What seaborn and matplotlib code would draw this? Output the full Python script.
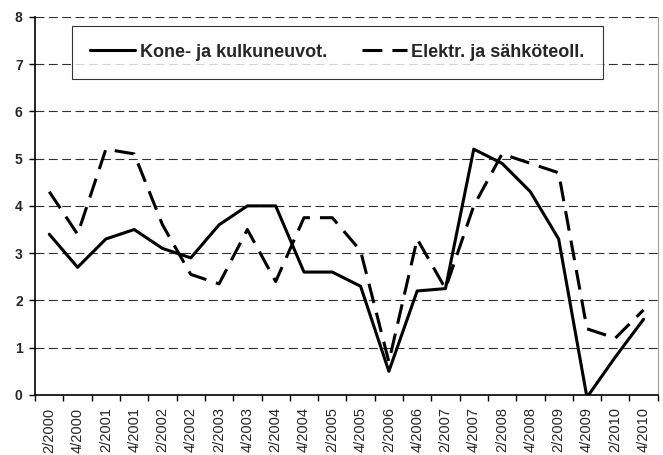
import matplotlib
matplotlib.use("Agg")
import matplotlib.pyplot as plt
import pandas as pd
import seaborn as sns

# data
periods = ["2/2000", "4/2000", "2/2001", "4/2001", "2/2002", "4/2002",
           "2/2003", "4/2003", "2/2004", "4/2004", "2/2005", "4/2005",
           "2/2006", "4/2006", "2/2007", "4/2007", "2/2008", "4/2008",
           "2/2009", "4/2009", "2/2010", "4/2010"]
kone = [3.4, 2.7, 3.3, 3.5, 3.1, 2.9, 3.6, 4.0, 4.0, 2.6, 2.6, 2.3,
        0.5, 2.2, 2.25, 5.2, 4.9, 4.3, 3.3, -0.05, 0.8, 1.6]
elektr = [4.3, 3.4, 5.2, 5.1, 3.6, 2.55, 2.35, 3.5, 2.4, 3.75, 3.75, 3.05,
          0.7, 3.3, 2.25, 4.0, 5.1, 4.9, 4.7, 1.4, 1.2, 1.8]
series_names = ["Kone- ja kulkuneuvot.", "Elektr. ja sähköteoll."]

df = pd.DataFrame({
    "pos": list(range(len(periods))) * 2,
    "value": kone + elektr,
    "series": [series_names[0]] * len(periods) + [series_names[1]] * len(periods),
})

sns.set_style("white")
plt.rcParams["font.family"] = ["Liberation Sans", "DejaVu Sans"]

fig = plt.figure(figsize=(6.63, 4.55), dpi=100)
ax = fig.add_axes([0.053, 0.132, 0.939, 0.831])

# horizontal dashed grid
for yv in range(1, 9):
    ax.axhline(yv, color="#303030", lw=0.8, dashes=(8, 4), zorder=0)

sns.lineplot(
    data=df, x="pos", y="value", hue="series", style="series",
    palette=["black", "black"],
    dashes={series_names[0]: "", series_names[1]: (6.5, 3.3)},
    linewidth=2.2, ax=ax, legend=True,
)

ax.set_xlim(-0.5, len(periods) - 0.5)
ax.set_ylim(0, 8)
ax.set_xlabel("")
ax.set_ylabel("")

ax.set_xticks(range(len(periods)))
ax.set_xticklabels(periods, rotation=90, fontsize=10.5)
ax.set_xticks([i - 0.5 for i in range(len(periods) + 1)], minor=True)
ax.tick_params(axis="x", which="major", length=0, pad=9)
ax.tick_params(axis="x", which="minor", length=4, width=1, color="black",
               direction="out", bottom=True)
ax.set_yticks(range(0, 9))
ax.set_yticklabels([str(v) for v in range(0, 9)], fontsize=10, fontweight="bold")
ax.tick_params(axis="y", length=4, width=1, color="black", direction="out",
               left=True, pad=5)

for side in ["left", "bottom"]:
    ax.spines[side].set_color("black")
    ax.spines[side].set_linewidth(1.2)
ax.spines["top"].set_visible(False)
ax.spines["right"].set_color("#a0a0a0")
ax.spines["right"].set_linewidth(0.8)

handles, labels = ax.get_legend_handles_labels()
leg = ax.legend(
    handles, labels, ncol=2, loc="lower left",
    bbox_to_anchor=(0.059, 0.836, 0.853, 0.13), mode="expand",
    frameon=True, fancybox=False, shadow=False, handlelength=2.5,
    handletextpad=0.25, borderpad=1.0, borderaxespad=0,
    prop={"weight": "bold", "size": 13},
)
leg.get_frame().set_edgecolor("black")
leg.get_frame().set_linewidth(0.8)

fig.savefig("out.png", dpi=100)
